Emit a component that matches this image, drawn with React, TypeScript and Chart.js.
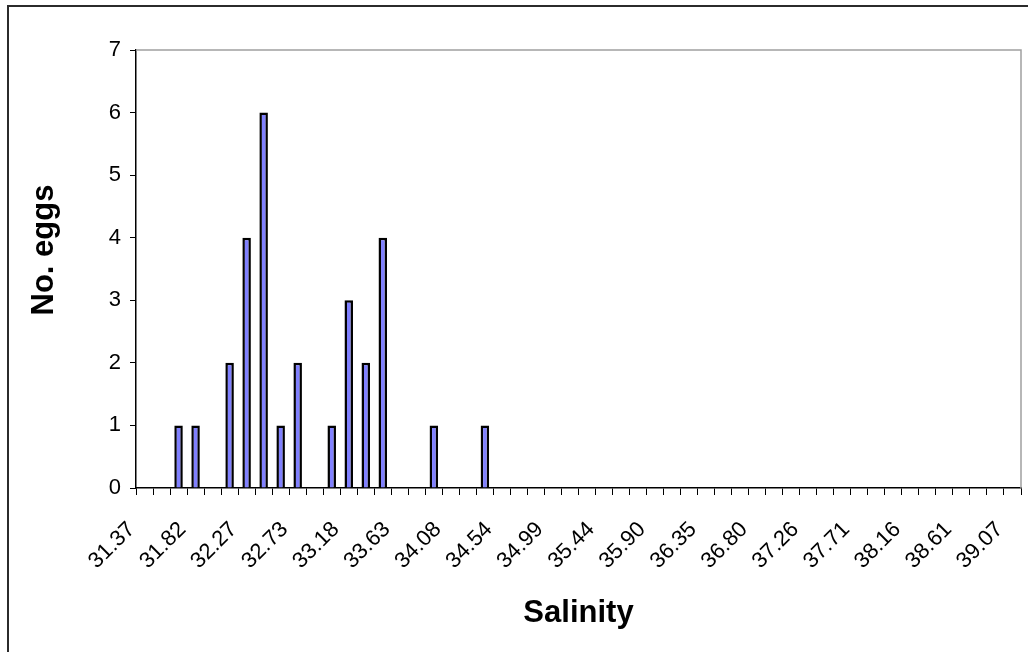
import React, { useEffect, useRef } from "react";
import { Chart, registerables } from "chart.js";

Chart.register(...registerables);

// Salinity bin labels (category axis)
const salinity = [
  "31.37", "31.52", "31.67", "31.82", "31.97", "32.12", "32.27", "32.42", "32.58", "32.73",
  "32.88", "33.03", "33.18", "33.33", "33.48", "33.63", "33.78", "33.93", "34.08", "34.24",
  "34.39", "34.54", "34.69", "34.84", "34.99", "35.14", "35.29", "35.44", "35.59", "35.75",
  "35.90", "36.05", "36.20", "36.35", "36.50", "36.65", "36.80", "36.95", "37.10", "37.26",
  "37.41", "37.56", "37.71", "37.86", "38.01", "38.16", "38.31", "38.46", "38.61", "38.77",
  "38.92", "39.07",
];

// Number of eggs per salinity bin
const eggs = [
  0, 0, 1, 1, 0, 2, 4, 6, 1, 2,
  0, 1, 3, 2, 4, 0, 0, 1, 0, 0,
  1, 0, 0, 0, 0, 0, 0, 0, 0, 0,
  0, 0, 0, 0, 0, 0, 0, 0, 0, 0,
  0, 0, 0, 0, 0, 0, 0, 0, 0, 0,
  0, 0,
];

const yMin = 0;
const yMax = 7;
const labelEvery = 3;
const xTitle = "Salinity";
const yTitle = "No. eggs";

const FONT = '"Liberation Sans", Arial, sans-serif';

const decor = {
  id: "decor",
  beforeDraw(chart: any) {
    const { ctx, width, height } = chart;
    ctx.save();
    ctx.fillStyle = "#ffffff";
    ctx.fillRect(0, 0, width, height);
    ctx.strokeStyle = "#2b2b2b";
    ctx.lineWidth = 2;
    ctx.beginPath();
    ctx.moveTo(8, height);
    ctx.lineTo(8, 6);
    ctx.lineTo(width, 6);
    ctx.stroke();
    ctx.restore();
  },
  afterDraw(chart: any) {
    const { ctx, chartArea: a, scales } = chart;
    ctx.save();
    // plot area border (top / right)
    ctx.strokeStyle = "#a0a0a0";
    ctx.lineWidth = 1.5;
    ctx.beginPath();
    ctx.moveTo(a.left, a.top);
    ctx.lineTo(a.right, a.top);
    ctx.lineTo(a.right, a.bottom);
    ctx.stroke();

    // rotated category labels
    const xs = scales.x;
    ctx.fillStyle = "#000";
    ctx.font = `22px ${FONT}`;
    ctx.textAlign = "right";
    ctx.textBaseline = "middle";
    salinity.forEach((lab, i) => {
      if (i % labelEvery !== 0) return;
      const x = xs.getPixelForValue(i);
      ctx.save();
      ctx.translate(x - 13, a.bottom + 38);
      ctx.rotate(-Math.PI / 4);
      ctx.fillText(lab, 0, 0);
      ctx.restore();
    });

    // axis titles
    ctx.font = `bold 31px ${FONT}`;
    ctx.textAlign = "center";
    ctx.textBaseline = "alphabetic";
    ctx.fillText(xTitle, (a.left + a.right) / 2, 622);

    ctx.save();
    ctx.translate(53, 250);
    ctx.rotate(-Math.PI / 2);
    ctx.fillText(yTitle, 0, 0);
    ctx.restore();
    ctx.restore();
  },
};

export default function App() {
  const ref = useRef<HTMLCanvasElement | null>(null);

  useEffect(() => {
    if (!ref.current) return;
    const chart = new Chart(ref.current, {
      type: "bar",
      data: {
        labels: salinity,
        datasets: [
          {
            data: eggs,
            backgroundColor: "#8080ff",
            borderColor: "#000000",
            borderWidth: 2.5,
            barPercentage: 0.5,
            categoryPercentage: 1,
          },
        ],
      },
      options: {
        responsive: false,
        animation: false,
        layout: { padding: { left: 0, top: 50, right: 7, bottom: 0 } },
        plugins: {
          legend: { display: false },
          tooltip: { enabled: false },
          title: { display: false },
        },
        scales: {
          x: {
            type: "category",
            offset: true,
            grid: {
              offset: true,
              drawOnChartArea: false,
              drawTicks: true,
              tickLength: 7,
              color: "#000",
              lineWidth: 1,
            },
            border: { display: true, color: "#000", width: 1.5 },
            ticks: { display: false, autoSkip: false },
            afterFit(scale: any) {
              scale.height = 164;
            },
          },
          y: {
            min: yMin,
            max: yMax,
            grid: {
              drawOnChartArea: false,
              drawTicks: true,
              tickLength: 6,
              color: "#000",
              lineWidth: 1,
            },
            border: { display: true, color: "#000", width: 1.5 },
            ticks: {
              stepSize: 1,
              padding: 9,
              color: "#000",
              font: { family: FONT, size: 22 },
            },
            afterFit(scale: any) {
              scale.width = 136;
            },
          },
        },
      },
      plugins: [decor],
    });
    return () => chart.destroy();
  }, []);

  return (
    <div style={{ position: "fixed", left: 0, top: 0, width: 1028, height: 652, overflow: "hidden", background: "#fff" }}>
      <canvas ref={ref} width={1028} height={652} style={{ display: "block", width: 1028, height: 652 }} />
    </div>
  );
}
